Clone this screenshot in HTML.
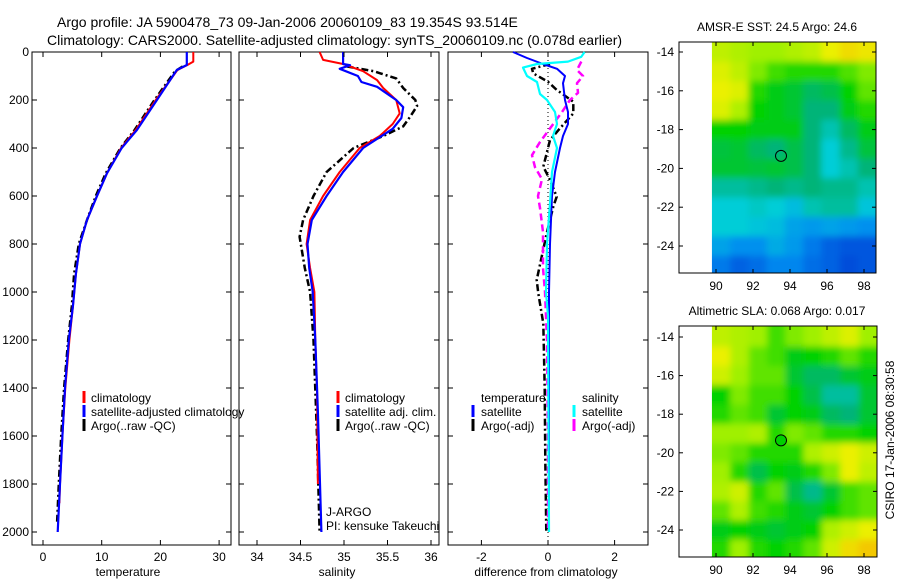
<!DOCTYPE html>
<html><head><meta charset="utf-8">
<style>
body{margin:0;background:#fff;}
svg{display:block;font-family:"Liberation Sans",sans-serif;}
text{fill:#000;}
</style></head>
<body>
<svg id="c" width="900" height="580" viewBox="0 0 900 580">
<text x="57" y="27" font-size="14">Argo profile: JA 5900478_73 09-Jan-2006 20060109_83 19.354S 93.514E</text>
<text x="47" y="45" font-size="14">Climatology: CARS2000. Satellite-adjusted climatology: synTS_20060109.nc (0.078d earlier)</text>
<g id="plots"></g>
</svg>
<script>
// ---- temperature panel data ----
const tDepthClim = [0,40,54,75,200,325,400,505,600,700,800,925,1060,1200,1400,1600,1800,1880];
const tClim      = [25.6,25.6,24.6,22.9,19.2,15.8,13.3,10.9,9.2,7.5,6.3,5.6,5.1,4.5,3.8,3.3,2.9,2.8];
const tDepthSat  = [0,54,75,200,325,400,505,600,700,800,925,1060,1200,1400,1600,1800,2000];
const tSat       = [24.5,24.5,22.8,19.4,16.0,13.4,10.9,9.2,7.5,6.3,5.6,5.1,4.4,3.75,3.3,2.9,2.5];
const tDepthArgo = [60,80,200,325,400,505,600,700,800,925,1060,1200,1400,1600,1800,1960];
const tArgo      = [23.8,22.5,19.0,15.6,13.2,10.7,9.0,7.5,6.1,5.3,4.9,4.3,3.6,3.1,2.7,2.4];
// ---- salinity panel data ----
const sDepthClim = [0,33,50,80,117,150,200,256,300,350,400,500,600,700,800,900,1000,1200,1400,1800];
const sClim      = [34.72,34.76,34.99,35.22,35.38,35.45,35.60,35.64,35.56,35.41,35.18,34.95,34.76,34.61,34.57,34.61,34.66,34.67,34.69,34.70];
const sDepthSat  = [0,50,55,70,100,125,145,200,230,275,320,400,500,600,700,800,900,1000,1200,1500,2000];
const sSat       = [34.99,34.99,35.07,34.95,35.16,35.20,35.38,35.60,35.68,35.66,35.56,35.22,34.99,34.80,34.63,34.58,34.60,34.64,34.67,34.70,34.74];
const sDepthArgo = [60,80,110,150,200,225,270,310,350,400,500,600,700,770,900,1000,1200,1600,2000];
const sArgo      = [35.03,35.34,35.60,35.68,35.82,35.84,35.76,35.68,35.45,35.11,34.80,34.65,34.53,34.49,34.55,34.61,34.65,34.69,34.72];
// ---- difference panel data ----
const dDepthTS = [0,25,50,70,100,130,200,250,300,350,400,500,600,800,1000,2000];
const dTSat    = [-1.05,-0.63,-0.15,0.27,0.51,0.45,0.51,0.60,0.60,0.45,0.36,0.21,0.12,0.06,0.03,0.03];
const dDepthTA = [50,70,89,124,158,207,256,318,367,478,533,603,644,756,853,950,1006,1131,1400,1700,2000];
const dTArgo   = [0.06,-0.48,-0.44,0.0,0.26,0.76,0.76,0.36,0.06,-0.14,0.06,0.26,0.16,-0.04,-0.19,-0.34,-0.29,-0.14,-0.10,-0.08,-0.05];
const dDepthSS = [0,20,40,50,65,100,125,175,200,250,300,350,400,500,630,800,1000,1100,2000];
const dSSat    = [1.10,1.00,0.60,-0.33,-0.75,-0.63,-0.33,-0.24,-0.03,0.21,0.27,0.15,0.27,0.12,0.06,-0.03,-0.06,0.0,0.03];
const dDepthSA = [40,75,100,130,170,200,250,290,330,375,430,480,530,600,650,750,900,1000,1200,1600,2000];
const dSArgo   = [1.00,0.87,1.05,0.87,0.90,0.66,0.42,0.21,0.0,-0.24,-0.48,-0.39,-0.18,-0.30,-0.24,-0.15,-0.15,-0.09,-0.03,0.0,0.0];
// ---- axis ticks ----
const depthTicks = [0,200,400,600,800,1000,1200,1400,1600,1800,2000];
const tTicks = [0,10,20,30];
const sTicks = ["34","34.5","35","35.5","36"];
const dTicks = [-2,0,2];
const lonTicks = [90,92,94,96,98];
const latTicks = [-14,-16,-18,-20,-22,-24];
// ---- map data (rows lat -14..-25, cols lon 90..98), normalized colour index ----
const sstGrid = [
[.74,.72,.70,.70,.72,.74,.80,.84,.82],
[.78,.74,.68,.64,.62,.62,.62,.65,.68],
[.80,.78,.62,.58,.56,.52,.54,.60,.66],
[.78,.72,.60,.58,.56,.50,.50,.58,.62],
[.60,.60,.58,.58,.58,.50,.44,.52,.58],
[.55,.56,.52,.50,.54,.50,.40,.48,.55],
[.56,.56,.55,.56,.54,.50,.40,.44,.50],
[.46,.46,.48,.50,.48,.50,.48,.48,.44],
[.40,.40,.42,.40,.36,.44,.46,.46,.38],
[.40,.40,.38,.36,.30,.28,.30,.28,.26],
[.30,.26,.26,.32,.28,.22,.18,.16,.16],
[.22,.18,.20,.24,.24,.20,.18,.14,.16]];
const slaGrid = [
[.74,.72,.70,.64,.68,.70,.74,.78,.70],
[.80,.72,.66,.64,.58,.60,.62,.66,.62],
[.76,.70,.66,.66,.56,.52,.52,.56,.58],
[.60,.68,.64,.64,.60,.54,.46,.46,.56],
[.62,.66,.64,.56,.60,.58,.52,.50,.56],
[.70,.70,.72,.62,.68,.66,.62,.62,.60],
[.68,.66,.62,.62,.62,.72,.76,.80,.76],
[.70,.62,.54,.60,.58,.62,.68,.80,.74],
[.72,.76,.62,.66,.54,.48,.56,.64,.66],
[.66,.72,.64,.62,.58,.56,.60,.64,.66],
[.58,.60,.58,.56,.58,.60,.72,.76,.80],
[.62,.70,.62,.60,.62,.66,.76,.84,.88]];
const floatLon = 93.514, floatLat = -19.354;

const NS = "http://www.w3.org/2000/svg";
const root = document.getElementById('plots');
function mk(tag, attrs, parent){const e=document.createElementNS(NS,tag);for(const k in attrs)e.setAttribute(k,attrs[k]);(parent||root).appendChild(e);return e;}
function txt(x,y,s,size,anchor,parent){const t=mk('text',{x:x,y:y,'font-size':size||12,'text-anchor':anchor||'start'},parent);t.textContent=s;return t;}

const Y0=52, Y2000=532, TOP=52, BOT=545;
const yD = d => Y0 + d*(Y2000-Y0)/2000;

function panel(name,x0,x1){
  const g=mk('g',{});
  
  
  const r=mk('rect',{x:x0,y:TOP,width:x1-x0,height:BOT-TOP,fill:'none',stroke:'#000','stroke-width':1},g);
  
  
  depthTicks.forEach(d=>{
    mk('line',{x1:x0,x2:x0+5,y1:yD(d),y2:yD(d),stroke:'#000'},g);
    mk('line',{x1:x1,x2:x1-5,y1:yD(d),y2:yD(d),stroke:'#000'},g);
  });
  return g;
}
function series(g,name,depths,vals,xf,color,w,dash){
  const pts=depths.map((d,i)=>xf(vals[i]).toFixed(1)+','+yD(d).toFixed(1)).join(' ');
  const p=mk('polyline',{points:pts,fill:'none',stroke:color,'stroke-width':w,'stroke-linejoin':'round'},g);
  if(dash)p.setAttribute('stroke-dasharray',dash);
  
  
}
function xticks(g,x0,x1,ticks,xf,label,lx){
  ticks.forEach(t=>{
    const x=xf(+t);
    mk('line',{x1:x,x2:x,y1:BOT,y2:BOT-5,stroke:'#000'},g);
    mk('line',{x1:x,x2:x,y1:TOP,y2:TOP+5,stroke:'#000'},g);
    txt(x,561,String(t),12,'middle',g);
  });
  const l=txt(lx,576,label,12,'middle',g);
  
  
}
function legTick(g,x,y,color){mk('line',{x1:x,x2:x,y1:y-11,y2:y+1,stroke:color,'stroke-width':3},g);}

// Panel 1 temperature
const xT = v => 43 + v*5.87;
const g1=panel('temperature-panel',32,231);
depthTicks.forEach(d=>txt(29,yD(d)+4,String(d),12,'end',g1));
series(g1,'temperature-argo',tDepthArgo,tArgo,xT,'#000',2.5,'7,3,2,3');
series(g1,'temperature-climatology',tDepthClim,tClim,xT,'#f00',2);
series(g1,'temperature-satellite',tDepthSat,tSat,xT,'#00f',2.2);
xticks(g1,32,231,tTicks,xT,'temperature',128);
legTick(g1,84,402,'#f00');txt(91,402,'climatology',12,'start',g1);
legTick(g1,84,416,'#00f');txt(91,416,'satellite-adjusted climatology',12,'start',g1);
legTick(g1,84,430,'#000');txt(91,430,'Argo(..raw -QC)',12,'start',g1);

// Panel 2 salinity
const xS = v => 257 + (v-34)*87;
const g2=panel('salinity-panel',239,439);
series(g2,'salinity-argo',sDepthArgo,sArgo,xS,'#000',2.5,'7,3,2,3');
series(g2,'salinity-climatology',sDepthClim,sClim,xS,'#f00',2);
series(g2,'salinity-satellite',sDepthSat,sSat,xS,'#00f',2.2);
xticks(g2,239,439,sTicks,xS,'salinity',337);
legTick(g2,338,402,'#f00');txt(345,402,'climatology',12,'start',g2);
legTick(g2,338,416,'#00f');txt(345,416,'satellite adj. clim.',12,'start',g2);
legTick(g2,338,430,'#000');txt(345,430,'Argo(..raw -QC)',12,'start',g2);
txt(326,516,'J-ARGO',12,'start',g2);
txt(326,530,'PI: kensuke Takeuchi',12,'start',g2);

// Panel 3 difference
const xDf = v => 548 + v*33.3;
const g3=panel('difference-panel',448,648);
mk('line',{x1:xDf(0),x2:xDf(0),y1:TOP,y2:BOT,stroke:'#000','stroke-dasharray':'1,3'},g3);
series(g3,'temp-argo-diff',dDepthTA,dTArgo,xDf,'#000',2.5,'7,3,2,3');
series(g3,'sal-argo-diff',dDepthSA,dSArgo,xDf,'#f0f',2.5,'7,4');
series(g3,'temp-satellite-diff',dDepthTS,dTSat,xDf,'#00f',2);
series(g3,'sal-satellite-diff',dDepthSS,dSSat,xDf,'#0ff',2.2);
xticks(g3,448,648,dTicks,xDf,'difference from climatology',546);
txt(481,402,'temperature',12,'start',g3);
txt(582,402,'salinity',12,'start',g3);
legTick(g3,473,416,'#00f');txt(481,416,'satellite',12,'start',g3);
legTick(g3,473,430,'#000');txt(481,430,'Argo(-adj)',12,'start',g3);
legTick(g3,574,416,'#0ff');txt(582,416,'satellite',12,'start',g3);
legTick(g3,574,430,'#f0f');txt(582,430,'Argo(-adj)',12,'start',g3);

// colormap
const stops=[[0,[0,40,190]],[0.15,[0,80,220]],[0.25,[0,140,240]],[0.4,[0,205,215]],[0.5,[0,180,120]],[0.6,[0,210,0]],[0.7,[160,240,0]],[0.8,[235,240,0]],[0.9,[245,190,0]],[1,[240,128,0]]];
function cmap(v){
  v=Math.max(0,Math.min(1,v));
  for(let i=1;i<stops.length;i++){ if(v<=stops[i][0]){const a=stops[i-1],b=stops[i],f=(v-a[0])/(b[0]-a[0]);
    return 'rgb('+a[1].map((c,k)=>Math.round(c+(b[1][k]-c)*f)).join(',')+')';}}
  return 'rgb(240,128,0)';
}
function map(name,title,grid,bx0,bx1,by0,by1,lat14y,pxLat,filled,id){
  const g=mk('g',{});
  
  
  const xL = lon => 716 + (lon-90)*18.5;
  const yL = lat => lat14y + (-14-lat)*pxLat;
  const clip=mk('clipPath',{id:'clip'+id},g);
  mk('rect',{x:xL(89.78),y:by0,width:bx1-xL(89.78),height:by1-by0},clip);
  const flt=mk('filter',{id:'bl'+id,x:'-10%',y:'-10%',width:'120%',height:'120%'},g);
  mk('feGaussianBlur',{stdDeviation:3.5},flt);
  const cg=mk('g',{'clip-path':'url(#clip'+id+')'},g);
  const inner=mk('g',{filter:'url(#bl'+id+')'},cg);
  const cw=(bx1-xL(89.78))/grid[0].length;
  grid.forEach((row,r)=>row.forEach((v,c)=>{
    const x0=xL(89.78)+c*cw, y0=yL(-13.5-r);
    mk('rect',{x:(x0-(c===0?12:0)).toFixed(1),y:(y0-(r===0?12:0)).toFixed(1),width:(cw+(c===0||c===row.length-1?12:0)+0.5).toFixed(1),height:(pxLat+(r===0||r===grid.length-1?12:0)+0.5).toFixed(1),fill:cmap(v)},inner);
  }));
  const fr=mk('rect',{x:bx0,y:by0,width:bx1-bx0,height:by1-by0,fill:'none',stroke:'#000'},g);
  
  
  lonTicks.forEach(l=>{const x=xL(l);
    mk('line',{x1:x,x2:x,y1:by1,y2:by1-4,stroke:'#000'},g);
    mk('line',{x1:x,x2:x,y1:by0,y2:by0+4,stroke:'#000'},g);
    txt(x,by1+17,String(l),12,'middle',g);});
  latTicks.forEach(l=>{const y=yL(l);
    mk('line',{x1:bx0,x2:bx0+4,y1:y,y2:y,stroke:'#000'},g);
    mk('line',{x1:bx1,x2:bx1-4,y1:y,y2:y,stroke:'#000'},g);
    txt(bx0-5,y+4,String(l),12,'end',g);});
  const t=txt(777,by0-11,title,12,'middle',g);
  
  
  const m=mk('circle',{cx:xL(floatLon),cy:yL(floatLat),r:5.5,fill:filled?'#00d000':'none',stroke:'#000','stroke-width':1},g);
  
  
}
map('sst-map','AMSR-E SST: 24.5 Argo: 24.6',sstGrid,679,876,42,273,52,19.4,false,1);
map('sla-map','Altimetric SLA: 0.068 Argo: 0.017',slaGrid,679,877,326,557,337,19.3,true,2);
const cs=txt(0,0,'CSIRO 17-Jan-2006 08:30:58',12,'middle');
cs.setAttribute('transform','translate(894,440) rotate(-90)');


</script>
</body></html>
